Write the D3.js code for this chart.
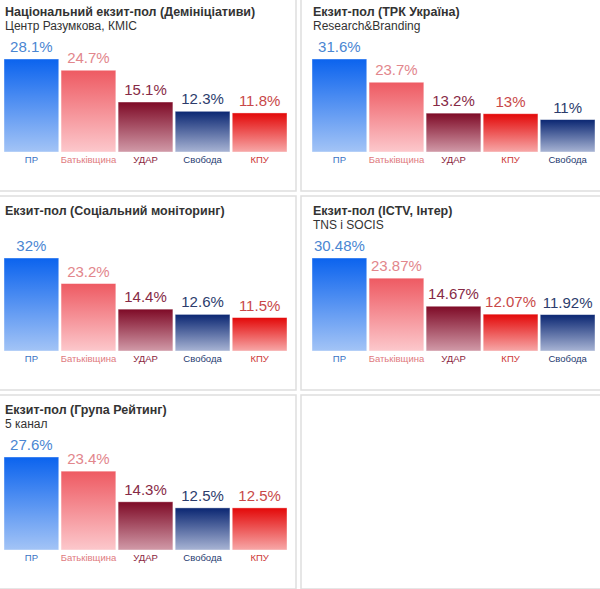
<!DOCTYPE html>
<html>
<head>
<meta charset="utf-8">
<script src="https://cdn.jsdelivr.net/npm/d3@7"></script>
<style>
  body { margin: 0; background: #fff; }
  svg { display: block; font-family: "Liberation Sans", Arial, sans-serif; }
</style>
</head>
<body>
<svg id="chart"></svg>
<script>
// chart data
var titles = [
  "Національний екзит-пол (Демініціативи)",
  "Екзит-пол (ТРК Україна)",
  "Екзит-пол (Соціальний моніторинг)",
  "Екзит-пол (ICTV, Інтер)",
  "Екзит-пол (Група Рейтинг)"
];
var subtitles = ["Центр Разумкова, КМІС", "Research&Branding", "", "TNS і SOCIS", "5 канал"];

var parties1 = ["ПР", "Батьківщина", "УДАР", "Свобода", "КПУ"];
var values1 = [28.1, 24.7, 15.1, 12.3, 11.8];
var parties2 = ["ПР", "Батьківщина", "УДАР", "КПУ", "Свобода"];
var values2 = [31.6, 23.7, 13.2, 13, 11];
var parties3 = ["ПР", "Батьківщина", "УДАР", "Свобода", "КПУ"];
var values3 = [32, 23.2, 14.4, 12.6, 11.5];
var parties4 = ["ПР", "Батьківщина", "УДАР", "КПУ", "Свобода"];
var values4 = [30.48, 23.87, 14.67, 12.07, 11.92];
var parties5 = ["ПР", "Батьківщина", "УДАР", "Свобода", "КПУ"];
var values5 = [27.6, 23.4, 14.3, 12.5, 12.5];

var allParties = [parties1, parties2, parties3, parties4, parties5];
var allValues = [values1, values2, values3, values4, values5];

// colors per party: gradient top, gradient bottom, value label, category label
var colors = {
  "ПР":          {top: "#0b63ee", bottom: "#a3c4f6", label: "#4a86d2", cat: "#3a73c4"},
  "Батьківщина": {top: "#ee5a62", bottom: "#fcc8cc", label: "#e2868c", cat: "#e07a80"},
  "УДАР":        {top: "#7e0a26", bottom: "#d19aa8", label: "#862a46", cat: "#8a1e3e"},
  "Свобода":     {top: "#0a2672", bottom: "#a8b4d4", label: "#2c3c6c", cat: "#253a70"},
  "КПУ":         {top: "#e30808", bottom: "#f7a8a8", label: "#c84848", cat: "#cc3838"}
};

var width = 600, height = 589;
var svg = d3.select("#chart").attr("width", width).attr("height", height);

var defs = svg.append("defs");
Object.keys(colors).forEach(function(k, i) {
  var g = defs.append("linearGradient").attr("id", "grad" + i)
    .attr("x1", 0).attr("y1", 0).attr("x2", 0).attr("y2", 1);
  g.append("stop").attr("offset", "0%").attr("stop-color", colors[k].top);
  g.append("stop").attr("offset", "100%").attr("stop-color", colors[k].bottom);
});
var gradId = {};
Object.keys(colors).forEach(function(k, i) { gradId[k] = "url(#grad" + i + ")"; });

var panelW = 303, panelH = 194, pitchX = 308, pitchY = 199;
var originX = -7, originY = -3;

function panelPos(i) {
  return {x: originX + (i % 2) * pitchX, y: originY + Math.floor(i / 2) * pitchY};
}

// 6 panel frames (last one is empty)
for (var i = 0; i < 6; i++) {
  var p = panelPos(i);
  svg.append("rect").attr("x", p.x).attr("y", p.y).attr("width", panelW).attr("height", panelH)
    .attr("fill", "#fff").attr("stroke", "#dedede").attr("stroke-width", 1.5);
}

var barBottom = 155, maxBarH = 93;

titles.forEach(function(title, i) {
  var p = panelPos(i);
  var g = svg.append("g").attr("transform", "translate(" + p.x + "," + p.y + ")");

  g.append("text").attr("x", 12).attr("y", 19).text(title)
    .attr("font-size", "12.5px").attr("font-weight", "bold").attr("fill", "#333");
  if (subtitles[i]) {
    g.append("text").attr("x", 12).attr("y", 33).text(subtitles[i])
      .attr("font-size", "12px").attr("fill", "#333");
  }

  var parties = allParties[i], vals = allValues[i];
  var data = parties.map(function(d, j) { return {party: d, value: vals[j]}; });

  var x = d3.scaleBand().domain(parties).range([11, 11 + 5 * 56.6]).paddingInner(0.04).paddingOuter(0);
  var y = d3.scaleLinear().domain([0, d3.max(vals)]).range([barBottom, barBottom - maxBarH]);

  g.selectAll(".bar").data(data).join("rect").attr("class", "bar")
    .attr("x", function(d) { return x(d.party); })
    .attr("y", function(d) { return y(d.value); })
    .attr("width", x.bandwidth())
    .attr("height", function(d) { return barBottom - y(d.value); })
    .attr("fill", function(d) { return gradId[d.party]; })
    .attr("stroke", "rgba(255,255,255,0.5)").attr("stroke-width", 0.8);

  g.selectAll(".val").data(data).join("text").attr("class", "val")
    .attr("x", function(d) { return x(d.party) + x.bandwidth() / 2; })
    .attr("y", function(d) { return y(d.value) - 7; })
    .attr("text-anchor", "middle").attr("font-size", "15px")
    .attr("fill", function(d) { return colors[d.party].label; })
    .text(function(d) { return d.value + "%"; });

  g.selectAll(".cat").data(data).join("text").attr("class", "cat")
    .attr("x", function(d) { return x(d.party) + x.bandwidth() / 2; })
    .attr("y", 166)
    .attr("text-anchor", "middle").attr("font-size", "9.5px")
    .attr("fill", function(d) { return colors[d.party].cat; })
    .text(function(d) { return d.party; });
});
</script>
</body>
</html>
